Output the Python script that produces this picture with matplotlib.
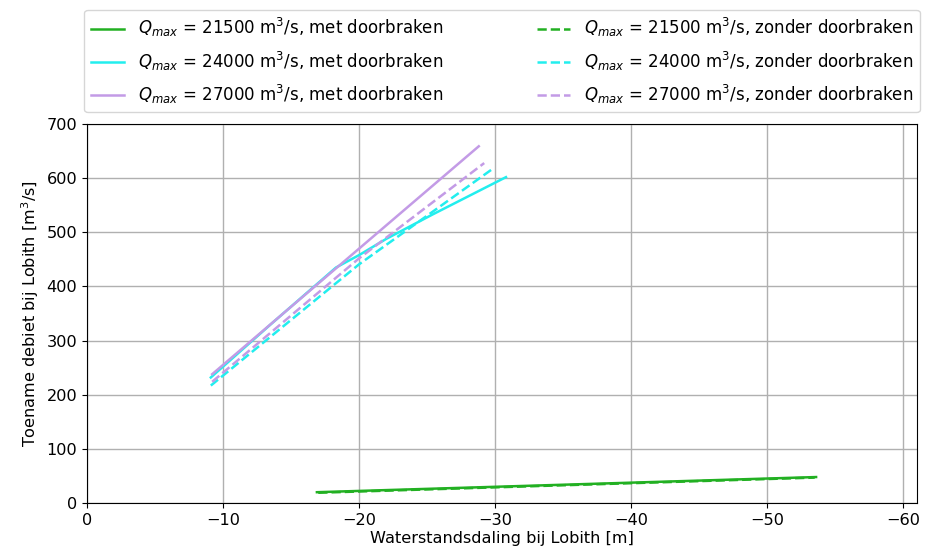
import matplotlib
matplotlib.use('Agg')
import matplotlib.pyplot as plt

# Waterstandsdaling (m) en toename debiet (m3/s) per scenario
x_21500_met = [-16.9, -53.6]
y_21500_met = [20, 48]
x_21500_zonder = [-17.0, -53.5]
y_21500_zonder = [19, 47]

x_24000_met = [-9.1, -13.5, -18.3, -20.0, -22.0, -25.4, -30.8]
y_24000_met = [232, 330, 435, 458, 488, 533, 602]
x_24000_zonder = [-9.1, -20.0, -29.8]
y_24000_zonder = [217, 441, 617]

x_27000_met = [-9.2, -28.8]
y_27000_met = [238, 659]
x_27000_zonder = [-9.2, -20.0, -29.2]
y_27000_zonder = [224, 452, 628]

groen = '#22b022'
cyaan = '#22eeee'
paars = '#c39be6'

plt.rcParams['font.size'] = 11.6

fig, ax = plt.subplots(figsize=(9.26, 5.54), dpi=100)

ax.plot(x_21500_met, y_21500_met, color=groen, lw=1.8,
        label=r'$Q_{max}$ = 21500 m$^3$/s, met doorbraken')
ax.plot(x_24000_met, y_24000_met, color=cyaan, lw=1.8,
        label=r'$Q_{max}$ = 24000 m$^3$/s, met doorbraken')
ax.plot(x_27000_met, y_27000_met, color=paars, lw=1.8,
        label=r'$Q_{max}$ = 27000 m$^3$/s, met doorbraken')
ax.plot(x_21500_zonder, y_21500_zonder, color=groen, lw=1.8, ls='--',
        label=r'$Q_{max}$ = 21500 m$^3$/s, zonder doorbraken')
ax.plot(x_24000_zonder, y_24000_zonder, color=cyaan, lw=1.8, ls='--',
        label=r'$Q_{max}$ = 24000 m$^3$/s, zonder doorbraken')
ax.plot(x_27000_zonder, y_27000_zonder, color=paars, lw=1.8, ls='--',
        label=r'$Q_{max}$ = 27000 m$^3$/s, zonder doorbraken')

ax.set_xlim(0, -61)
ax.set_ylim(0, 700)
ax.set_xticks([0, -10, -20, -30, -40, -50, -60])
ax.grid(True, color='#b0b0b0', lw=1)
ax.set_xlabel('Waterstandsdaling bij Lobith [m]', labelpad=2)
ax.set_ylabel('Toename debiet bij Lobith [m$^3$/s]')

ax.legend(loc='lower center', bbox_to_anchor=(0.5, 1.018), ncol=2,
          columnspacing=5.65, labelspacing=0.6, fontsize=12,
          borderaxespad=0.3)

fig.subplots_adjust(left=0.094, right=0.99, bottom=0.092, top=0.776)
fig.savefig('out.png', dpi=100)
